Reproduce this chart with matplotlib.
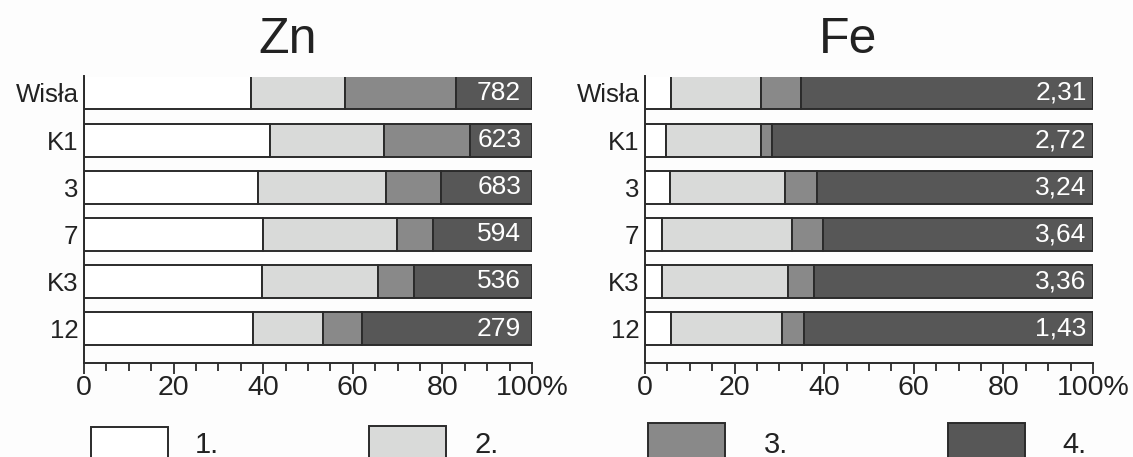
import matplotlib
import numpy as np

matplotlib.use("Agg")
import matplotlib.pyplot as plt
from matplotlib.patches import Rectangle
from matplotlib.ticker import MultipleLocator

sites = ["Wisła", "K1", "3", "7", "K3", "12"]
fraction_labels = ["1.", "2.", "3.", "4."]

# cumulative shares (%) of fractions 1-3; fraction 4 fills up to 100
zn_cumulative = [
    [37.3, 58.2, 83.0],
    [41.6, 67.0, 86.1],
    [38.9, 67.3, 79.6],
    [40.0, 69.9, 78.0],
    [39.8, 65.6, 73.6],
    [37.7, 53.3, 62.1],
]
fe_cumulative = [
    [5.9, 25.8, 34.9],
    [4.7, 25.8, 28.4],
    [5.5, 31.3, 38.5],
    [3.8, 32.8, 39.8],
    [3.9, 31.9, 37.7],
    [5.9, 30.6, 35.4],
]
zn_totals = [782, 623, 683, 594, 536, 279]
fe_totals = [2.31, 2.72, 3.24, 3.64, 3.36, 1.43]

colors = ["#ffffff", "#d9dad9", "#898989", "#575757"]
edge = "#2b2b2b"

plt.rcParams["font.family"] = ["Liberation Sans", "DejaVu Sans"]
plt.rcParams["text.color"] = "#222222"

W, H = 1133, 457
fig = plt.figure(figsize=(W / 100, H / 100), dpi=100)
fig.patch.set_facecolor("#fdfdfd")


def draw_panel(ax, title, title_x, cumulative, totals, fmt, label_x):
    cum = np.array(cumulative)
    edges = np.hstack([np.zeros((len(cum), 1)), cum, np.full((len(cum), 1), 100.0)])
    y = np.arange(len(sites))
    for k in range(4):
        left = edges[:, k]
        width = edges[:, k + 1] - edges[:, k]
        ax.barh(y, width, left=left, height=0.7, color=colors[k],
                edgecolor=edge, linewidth=1.4)
    for yi, val in zip(y, totals):
        ax.text(label_x, yi, fmt(val), ha="right", va="center",
                color="white", fontsize=19)
    ax.set_xlim(0, 100)
    ax.set_ylim(5.73, -0.35)
    ax.set_yticks(y)
    ax.set_yticklabels(sites, fontsize=18.5, color="#222222")
    ax.tick_params(axis="y", length=0, pad=4)
    ax.xaxis.set_minor_locator(MultipleLocator(5))
    ax.set_xticks(range(0, 101, 20))
    ax.set_xticklabels(["0", "20", "40", "60", "80", "100%"], fontsize=20.5,
                       color="#222222")
    ax.tick_params(axis="x", which="major", length=8, width=1.3, color=edge, pad=0.5)
    ax.tick_params(axis="x", which="minor", length=5.5, width=1.3, color=edge)
    for side in ("top", "right"):
        ax.spines[side].set_visible(False)
    for side in ("left", "bottom"):
        ax.spines[side].set_linewidth(1.4)
        ax.spines[side].set_color(edge)
    ax.set_facecolor("none")
    ax.text(title_x, 1 + 23.5 / 286, title, transform=ax.transAxes,
            ha="center", va="baseline", fontsize=36)


ax_zn = fig.add_axes([84 / W, 94 / H, 448 / W, 286.5 / H])
ax_fe = fig.add_axes([645 / W, 94 / H, 448 / W, 286.5 / H])
draw_panel(ax_zn, "Zn", 0.455, zn_cumulative, zn_totals, lambda v: f"{v:d}", 97.6)
draw_panel(ax_fe, "Fe", 0.453, fe_cumulative, fe_totals,
           lambda v: f"{v:.2f}".replace(".", ","), 98.6)

# legend swatches along the bottom edge
box_left = [91, 369, 648, 948]
box_top = [427, 426, 423, 423]
text_left = [195, 474, 764, 1062]
for k in range(4):
    fig.add_artist(Rectangle((box_left[k] / W, (H - 475) / H), 77 / W,
                             (475 - box_top[k]) / H, transform=fig.transFigure,
                             facecolor=colors[k], edgecolor=edge, linewidth=1.4))
    fig.text(text_left[k] / W, (H - 453) / H, fraction_labels[k],
             fontsize=21, ha="left", va="baseline")

fig.savefig("out.png", dpi=100, facecolor=fig.get_facecolor())
